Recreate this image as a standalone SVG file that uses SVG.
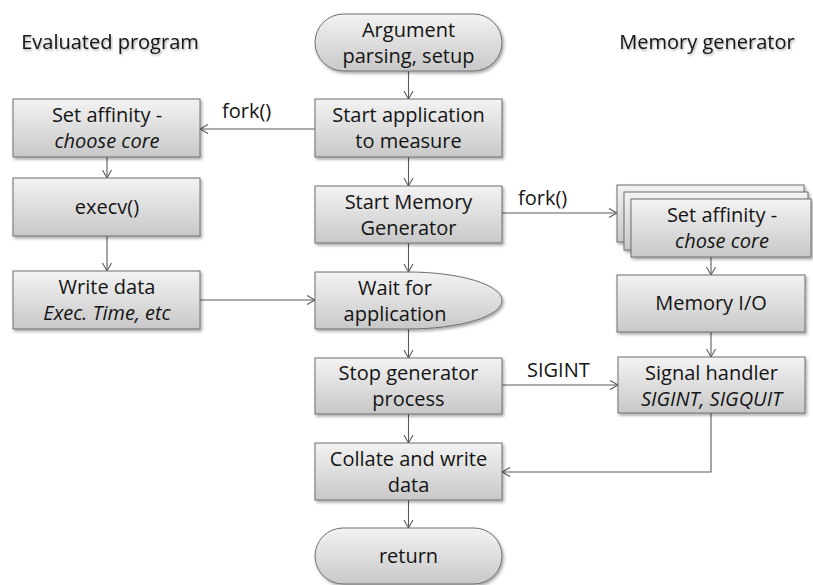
<svg xmlns="http://www.w3.org/2000/svg" width="813" height="585" viewBox="0 0 813 585">
<defs>
<linearGradient id="g" x1="0" y1="0" x2="0" y2="1">
<stop offset="0" stop-color="#f3f3f3"/>
<stop offset="1" stop-color="#c8c8c8"/>
</linearGradient>
<filter id="sh" x="-10%" y="-10%" width="125%" height="135%">
<feDropShadow dx="1.5" dy="2" stdDeviation="1.5" flood-color="#000" flood-opacity="0.35"/>
</filter>
<filter id="tsh" x="-10%" y="-30%" width="120%" height="170%">
<feDropShadow dx="1" dy="1.5" stdDeviation="1.2" flood-color="#000" flood-opacity="0.35"/>
</filter>
<marker id="ah" markerUnits="userSpaceOnUse" markerWidth="12" markerHeight="12" viewBox="0 0 12 12" refX="10" refY="6" orient="auto">
<path d="M2,1.5 L10,6 L2,10.5" fill="none" stroke="#5a5a5a" stroke-width="1.1"/>
</marker>
</defs>
<style>
.b{fill:url(#g);stroke:#6e6e6e;stroke-width:1;filter:url(#sh)}
.t{font-family:"Open Sans","Liberation Sans",sans-serif;font-size:20px;fill:#141414;text-anchor:middle}
.i{font-style:italic}
.h{font-family:"Open Sans","Liberation Sans",sans-serif;font-size:20px;fill:#141414;text-anchor:middle;filter:url(#tsh)}
.l{font-family:"Open Sans","Liberation Sans",sans-serif;font-size:20px;fill:#141414}
.c{fill:none;stroke:#5a5a5a;stroke-width:1.1;marker-end:url(#ah)}
</style>

<text class="h" x="110" y="49">Evaluated program</text>
<text class="h" x="707" y="49">Memory generator</text>

<g id="connectors">
<line class="c" x1="408.5" y1="71" x2="408.5" y2="99"/>
<line class="c" x1="408.5" y1="157" x2="408.5" y2="186"/>
<line class="c" x1="408.5" y1="243" x2="408.5" y2="272"/>
<line class="c" x1="408.5" y1="329" x2="408.5" y2="358"/>
<line class="c" x1="408.5" y1="414" x2="408.5" y2="443"/>
<line class="c" x1="408.5" y1="500" x2="408.5" y2="528"/>
<line class="c" x1="107" y1="157" x2="107" y2="178"/>
<line class="c" x1="107" y1="236" x2="107" y2="271"/>
<line class="c" x1="315" y1="129" x2="200" y2="129"/>
<line class="c" x1="200" y1="300" x2="315" y2="300"/>
<line class="c" x1="502" y1="213" x2="617" y2="213"/>
<line class="c" x1="711" y1="257" x2="711" y2="275"/>
<line class="c" x1="711" y1="332" x2="711" y2="357"/>
<line class="c" x1="502" y1="385" x2="618" y2="385"/>
<polyline class="c" points="711,413 711,472 502,472"/>
<text class="l" x="222" y="118">fork()</text>
<text class="l" x="518" y="205">fork()</text>
<text class="l" x="527" y="377">SIGINT</text>
</g>

<g id="arg-parsing">
<rect class="b" x="315" y="14" width="187" height="57" rx="28.5"/>
<text class="t" x="408.5" y="37">Argument</text>
<text class="t" x="408.5" y="63">parsing, setup</text>
</g>
<g id="start-app">
<rect class="b" x="315" y="99" width="187" height="58"/>
<text class="t" x="408.5" y="122">Start application</text>
<text class="t" x="408.5" y="148">to measure</text>
</g>
<g id="start-mem">
<rect class="b" x="315" y="186" width="187" height="57"/>
<text class="t" x="408.5" y="209">Start Memory</text>
<text class="t" x="408.5" y="235">Generator</text>
</g>
<g id="wait-app">
<path class="b" d="M315,272 H408 A94,28.5 0 0 1 502,300.5 A94,28.5 0 0 1 408,329 H315 Z"/>
<text class="t" x="395" y="295">Wait for</text>
<text class="t" x="395" y="321">application</text>
</g>
<g id="stop-gen">
<rect class="b" x="315" y="358" width="187" height="56"/>
<text class="t" x="408.5" y="380">Stop generator</text>
<text class="t" x="408.5" y="406">process</text>
</g>
<g id="collate">
<rect class="b" x="315" y="443" width="187" height="57"/>
<text class="t" x="408.5" y="466">Collate and write</text>
<text class="t" x="408.5" y="492">data</text>
</g>
<g id="return">
<rect class="b" x="315" y="528" width="187" height="56" rx="28"/>
<text class="t" x="408.5" y="563">return</text>
</g>

<g id="set-affinity-left">
<rect class="b" x="13" y="99" width="187" height="58"/>
<text class="t" x="107" y="122">Set affinity -</text>
<text class="t i" x="107" y="148">choose core</text>
</g>
<g id="execv">
<rect class="b" x="13" y="178" width="187" height="58"/>
<text class="t" x="107" y="214">execv()</text>
</g>
<g id="write-data">
<rect class="b" x="13" y="271" width="187" height="58"/>
<text class="t" x="107" y="294">Write data</text>
<text class="t i" x="107" y="320">Exec. Time, etc</text>
</g>

<g id="set-affinity-right">
<rect class="b" x="617" y="185" width="187" height="57"/>
<rect class="b" x="624" y="192" width="184" height="58"/>
<rect class="b" x="631" y="199" width="180" height="58"/>
<text class="t" x="722" y="222">Set affinity -</text>
<text class="t i" x="722" y="248">chose core</text>
</g>
<g id="memory-io">
<rect class="b" x="617" y="275" width="188" height="57"/>
<text class="t" x="711" y="310">Memory I/O</text>
</g>
<g id="signal-handler">
<rect class="b" x="618" y="357" width="187" height="56"/>
<text class="t" x="711.5" y="380">Signal handler</text>
<text class="t i" x="711.5" y="406">SIGINT, SIGQUIT</text>
</g>
</svg>
